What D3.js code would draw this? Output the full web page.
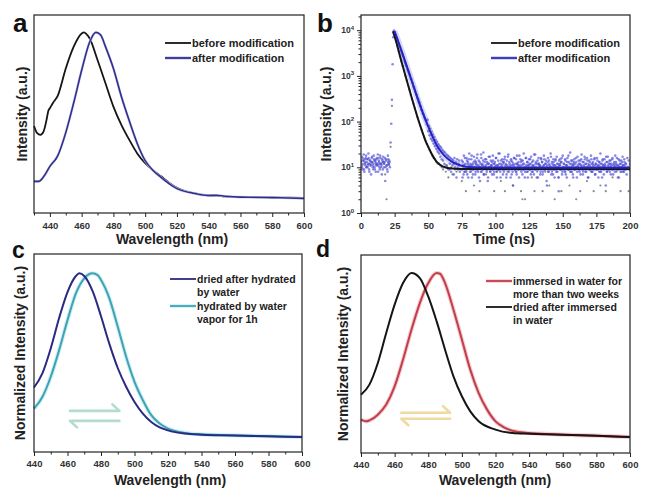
<!DOCTYPE html>
<html><head><meta charset="utf-8">
<script src="https://cdn.jsdelivr.net/npm/d3@7"></script>
<style>body{margin:0;background:#fff}svg{display:block}</style>
</head><body><svg id="chart" width="652" height="497"></svg>
<script>
// ---------------- DATA ----------------
// Panel a : PL spectra (a.u.)
const wlBeforeA = [430,432,434,436,438,439,440,442,445,450,455,460,461.5,463,465,470,475,480,485,490,495,500,505,510,515,520,530,540,545,550,560,570,580,590,600];
const valBeforeA = [0.482,0.442,0.433,0.451,0.52,0.565,0.58,0.61,0.65,0.80,0.921,0.994,1.0,0.99,0.967,0.847,0.718,0.589,0.488,0.405,0.33,0.276,0.236,0.203,0.168,0.14,0.111,0.097,0.096,0.092,0.089,0.087,0.086,0.085,0.083];
const wlAfterA = [430,433,436,440,445,450,455,460,465,469,472,475,480,485,490,495,500,505,510,515,520,530,540,545,550,560,570,580,590,600];
const valAfterA = [0.175,0.175,0.2,0.258,0.318,0.445,0.61,0.79,0.945,1.0,0.985,0.921,0.80,0.645,0.51,0.385,0.29,0.235,0.197,0.163,0.135,0.110,0.097,0.098,0.093,0.088,0.087,0.085,0.083,0.081];
const ticksWlA = [440,460,480,500,520,540,560,580,600];

// Panel b : time-resolved decay (counts)
const timeTicksB = [0,25,50,75,100,125,150,175,200];
const logTicksB = [1,10,100,1000,10000];
// raw counts "after modification", blocks (start time, channel step 0.5 ns)
const afterStart1 = 0,  afterCounts1 = [12,17,9,14,19,8,13,16,10,15,11,20,9,14,12,7,16,13,11,18,10,14,8,15,12,19,11,13,9,16,12,7,14,17,10,13,5,15,11,9,18,12,14,10];
const afterStart1b = 0.25, afterCounts1b = [14,10,16,12,9,15,11,18,13,10,12,16,8,14,11,13,17,10,12,15,9,13,11,16,12,8,14,10,18,12,11,15,9,13,12,16,10,14,11,8,15,12,13];
const afterStart2 = 22, afterCounts2 = [35,90,300,1800,7000,9800,9200,8300,7600,6900,6300,5500,5000,4500,4200,3700,3400,3100,2800,2600,2300,2050,1900,1700,1600,1400,1300,1200,1080,1000,880,830,740,690,590,560,500,450,400,380,330,310,270,260,225,210,180,175,150,145,128,118,108,100,88,110,62,80,50,70,42,60,38,52,33,46,29,40,25,36,22,32,20,29,17,27,15,24,14,22,12,21,11,19,10,18,9,17,12,16,8,15,11,14,7,16,10,13,6,15,9,12,14,8];
const afterStart3 = 75, afterCounts3 = [14,6,11,18,8,12,9,16,7,13,10,20,8,11,15,6,12,9,17,10,7,13,11,19,8,14,10,5,12,16,9,11,21,7,13,10,15,8,12,6,17,10,9,14,11,7,18,12,8,13,10,16,6,11,14,9,20,8,12,10,15,7,13,9,17,11,6,14,10,19,8,12,10,15,7,13,4,11,16,9,12,8,18,10,13,6,11,15,9,14,7,12,20,10,8,16,11,13,6,10,15,9,12,17,8,11,14,7,10,19,13,9,12,6,16,10,11,8,15,13,7,10,18,9,12,14,5,11,16,8,12,10,20,7,13,9,15,11,6,14,10,17,8,12,3,11,15,9,13,7,18,10,12,8,14,11,6,16,9,13,10,21,8,12,14,7,11,15,9,10,13,6,17,10,12,8,14,11,19,9,7,13,10,15,12,8,16,10,6,14,11,9,18,12,8,13,10,15,7,12,9,16,11,6,13,10,20,8,12,14,10,7,15,11,4,13,9,17,10,12,8,14,11,9,16,7,12,10,18,13,9,11,6,15,10,12,8,14,10,17,11,8,13,9,12,7,16,10,14,9,12];
const afterStart3b = 75.25, afterCounts3b = [9,13,7,11,16,10,8,14,12,6,15,10,12,9,18,11,7,13,10,14,8,12,16,9,11,6,13,10,19,8,12,14,7,10,15,11,9,13,5,12,10,17,8,11,13,9,14,7,12,10,16,8,11,9,20,12,10,6,14,11,9,13,8,15,10,12,7,11,17,9,13,10,6,14,11,8,12,16,10,9,15,7,12,11,9,18,10,13,8,11,14,9,12,6,10,16,8,13,11,9,12,15,7,10,13,8,11,19,9,12,10,6,14,9,12,11,7,16,10,13,8,11,15,9,12,10,4,13,8,14,11,9,17,10,12,7,13,9,11,15,8,12,10,6,14,11,9,13,16,8,10,12,9,15,7,11,13,10,18,9,12,8,14,10,11,6,13,9,12,16,10,8,11,14,9,12,7,15,10,13,9,11,17,8,12,10,14,6,11,9,13,10,15,8,12,11,9,16,7,12,10,14,9,11,13,8,12,10,6,15,11,9,12,10,17,8,13,11,9,14,10,7,12,15,9,11,13,8,10,12,16,9,11,6,14,10,12,8,13,11,9,15,10,12];
const afterStep = 0.5;
// raw counts "before modification" (channel step 1 ns)
const beforeStart1 = 0,  beforeCounts1 = [13,11,14,12,10,15,12,11,13,9,14,12,11,16,12,10,13,12,7,2,13,11];
const beforeStart2 = 22, beforeCounts2 = [28,220,9000,7600,5900,4500,3500,2700,2100,1650,1300,1000,800,630,500,390,310,245,195,158,125,100,82,67,55,45,38,32,28,24,21,18,16,15,13,12,12,11,10];
const beforeStart3 = 61, beforeCounts3 = [9,10,8,11,6,9,10,7,12,9,8,10,11,9,5,10,8,3,9,11,10,8,9,4,12,9,10,3,8,11,9,10,7,9,12,8,10,9,3,11,8,10,9,5,10,12,3,9,8,10,11,9,4,10,8,12,9,10,3,2,9,2,10,8,11,9,6,10,3,9,8,12,10,9,3,11,8,10,9,4,10,8,11,2,9,10,6,12,3,9,10,8,11,9,4,10,8,12,9,2,10,9,3,11,8,10,9,5,12,9,8,10,3,11,9,10,8,4,9,11,10,3,8,9,12,10,6,9,11,8,10,9,3,10,8,11,9,10,3,9];
const beforeStep = 1;
// fitted decay curves
const fitTimeBefore = [23.8,26,28,30,32,34,36,38,40,42,44,46,48,50,52,54,56,58,60,63,66,70,80,100,150,200];
const fitBefore = [9500,5800,3500,2100,1300,800,500,310,195,125,82,55,38,28,21,16.5,13.5,11.8,10.7,9.9,9.5,9.3,9.2,9.2,9.2,9.2];
const fitTimeAfter = [24.8,27,29,31,33,35,37,39,41,43,45,47,49,51,53,55,57,59,62,65,68,72,76,80,90,120,160,200];
const fitAfter = [9500,6500,4400,3000,2000,1350,900,600,400,270,185,130,92,66,48,36,28,23,18,15,13,11.5,10.6,10.2,9.9,9.8,9.8,9.8];

// Panel c : normalized spectra
const wlDriedC = [440,445,450,455,460,465,467,470,475,480,485,490,495,500,505,510,515,520,530,540,550,560,580,600];
const valDriedC = [0.361,0.44,0.58,0.75,0.895,0.985,1.0,0.985,0.90,0.76,0.605,0.47,0.365,0.28,0.215,0.168,0.138,0.121,0.103,0.097,0.094,0.092,0.088,0.084];
const wlHydratedC = [440,445,450,455,460,465,470,475,478,480,485,490,495,500,505,510,515,520,530,540,550,560,580,600];
const valHydratedC = [0.243,0.308,0.421,0.570,0.738,0.888,0.972,1.0,0.99,0.963,0.860,0.701,0.533,0.393,0.290,0.206,0.159,0.131,0.107,0.099,0.095,0.093,0.088,0.084];

// Panel d : normalized spectra
const wlImmersedD = [440,443,445,450,455,460,465,470,475,480,485,487,490,495,500,505,510,515,520,525,530,540,550,560,580,600];
const valImmersedD = [0.185,0.176,0.181,0.213,0.269,0.370,0.519,0.685,0.833,0.944,1.0,0.996,0.944,0.796,0.630,0.463,0.333,0.241,0.176,0.143,0.124,0.111,0.106,0.102,0.096,0.089];
const wlDriedD = [440,445,450,455,460,465,470,475,480,485,490,495,500,505,510,520,530,540,550,560,580,600];
const valDriedD = [0.324,0.380,0.500,0.667,0.824,0.944,1.0,0.972,0.870,0.731,0.574,0.426,0.315,0.231,0.176,0.130,0.111,0.107,0.104,0.102,0.096,0.089];
const ticksWl = [440,460,480,500,520,540,560,580,600];

// ---------------- DRAWING ----------------
const FONT = "'Liberation Sans', Arial, Helvetica, sans-serif";
const svg = d3.select("#chart");
svg.append("rect").attr("width",652).attr("height",497).attr("fill","#fff");

function frame(box){
  svg.append("rect").attr("x",box.x0).attr("y",box.y0).attr("width",box.x1-box.x0).attr("height",box.y1-box.y0)
    .attr("fill","none").attr("stroke","#222").attr("stroke-width",1.2);
}
function xAxis(x, box, major, minor, pad){
  const ax = svg.append("g").attr("transform",`translate(0,${box.y1})`)
    .call(d3.axisBottom(x).tickValues(major).tickSize(4).tickPadding(pad).tickFormat(d3.format("d")));
  ax.select(".domain").remove();
  ax.selectAll("line").attr("stroke","#222").attr("stroke-width",1);
  ax.selectAll("text").attr("font-family",FONT).attr("font-size",9.5).attr("font-weight","bold").attr("fill","#333");
  const mn = svg.append("g").attr("transform",`translate(0,${box.y1})`)
    .call(d3.axisBottom(x).tickValues(minor.filter(v=>!major.includes(v))).tickSize(2.5).tickFormat(""));
  mn.select(".domain").remove();
  mn.selectAll("line").attr("stroke","#222");
}
function title(text, x, y, rot, size){
  svg.append("text").attr("transform",`translate(${x},${y}) rotate(${rot||0})`)
    .attr("text-anchor","middle").attr("font-family",FONT).attr("font-weight","bold")
    .attr("font-size",size||14).attr("fill","#222").text(text);
}
function panelLabel(t,x,y,size){
  svg.append("text").attr("x",x).attr("y",y).attr("font-family",FONT).attr("font-weight","bold")
    .attr("font-size",size).attr("fill","#111").text(t);
}
function curve(x,y,xs,ys,color,w,halo,haloW){
  const pts = xs.map((v,i)=>[v,ys[i]]);
  const line = d3.line().x(d=>x(d[0])).y(d=>y(d[1])).curve(d3.curveMonotoneX);
  if(halo) svg.append("path").attr("d",line(pts)).attr("fill","none").attr("stroke",halo).attr("stroke-width",haloW).attr("stroke-linejoin","round");
  svg.append("path").attr("d",line(pts)).attr("fill","none").attr("stroke",color).attr("stroke-width",w).attr("stroke-linejoin","round");
}
function legend(x0, rows, size){
  rows.forEach(r=>{
    if(r.color){
      if(r.halo) svg.append("line").attr("x1",x0).attr("x2",x0+26).attr("y1",r.y).attr("y2",r.y).attr("stroke",r.halo).attr("stroke-width",3.5);
      svg.append("line").attr("x1",x0).attr("x2",x0+26).attr("y1",r.y).attr("y2",r.y).attr("stroke",r.color).attr("stroke-width",1.8);
    }
    svg.append("text").attr("x",x0+27).attr("y",r.y+3.8).attr("font-family",FONT).attr("font-weight","bold")
      .attr("font-size",size).attr("fill","#222").text(r.text);
  });
}
function eqArrows(x, y, w0, w1, vTop, vBot, color){
  const xa=x(w0), xb=x(w1), yt=y(vTop), yb=y(vBot);
  svg.append("path").attr("d",`M${xa},${yt}L${xb},${yt}L${xb-7},${yt-6.5}`).attr("fill","none").attr("stroke",color).attr("stroke-width",2.6).attr("stroke-linejoin","round").attr("stroke-linecap","round");
  svg.append("path").attr("d",`M${xb},${yb}L${xa},${yb}L${xa+7},${yb+6.5}`).attr("fill","none").attr("stroke",color).attr("stroke-width",2.6).attr("stroke-linejoin","round").attr("stroke-linecap","round");
}

// ---- Panel a ----
{
  const box={x0:34,x1:304,y0:15,y1:213};
  const x=d3.scaleLinear().domain([430,600]).range([box.x0,box.x1]);
  const y=d3.scaleLinear().domain([0,1.096]).range([box.y1,box.y0]);
  curve(x,y,wlBeforeA,valBeforeA,"#151515",1.8);
  curve(x,y,wlAfterA,valAfterA,"#2f2f8c",1.6,"#cfcff0",2.6);
  frame(box);
  xAxis(x,box,ticksWlA,d3.range(430,601,10),5);
  title("Wavelength (nm)",172,244);
  title("Intensity (a.u.)",27,114,-90);
  panelLabel("a",13,32,26);
  legend(165,[{color:"#151515",y:43,text:"before modification"},{color:"#2f2f8c",halo:"#cfcff0",y:58,text:"after modification"}],11);
}

// ---- Panel b ----
{
  const box={x0:361,x1:630,y0:15,y1:213};
  const x=d3.scaleLinear().domain([0,200]).range([box.x0,box.x1]);
  const y=d3.scaleLog().domain([1,21500]).range([box.y1,box.y0]);
  svg.append("clipPath").attr("id","clipB").append("rect").attr("x",box.x0).attr("y",box.y0).attr("width",box.x1-box.x0).attr("height",box.y1-box.y0);
  const g=svg.append("g").attr("clip-path","url(#clipB)");
  const pts=(start,step,arr)=>arr.map((v,i)=>[start+i*step,v]);
  const before=[...pts(beforeStart1,beforeStep,beforeCounts1),...pts(beforeStart2,beforeStep,beforeCounts2),...pts(beforeStart3,beforeStep,beforeCounts3)];
  const after=[...pts(afterStart1,afterStep,afterCounts1),...pts(afterStart1b,afterStep,afterCounts1b),...pts(afterStart2,afterStep,afterCounts2),
               ...pts(afterStart3,afterStep,afterCounts3),...pts(afterStart3b,afterStep,afterCounts3b)];
  g.selectAll("circle.bf").data(before).join("circle").attr("class","bf")
    .attr("cx",d=>x(d[0])).attr("cy",d=>y(d[1])).attr("r",1.1).attr("fill","#6a6a7a").attr("opacity",0.8);
  const line=d3.line().x(d=>x(d[0])).y(d=>y(d[1])).curve(d3.curveMonotoneX);
  const fa=fitTimeAfter.map((t,i)=>[t,fitAfter[i]]);
  const fb=fitTimeBefore.map((t,i)=>[t,fitBefore[i]]);
  g.append("path").attr("d",line(fa)).attr("fill","none").attr("stroke","#8a8ae8").attr("stroke-width",6).attr("opacity",0.35);
  g.selectAll("circle.af").data(after).join("circle").attr("class","af")
    .attr("cx",d=>x(d[0])).attr("cy",d=>y(d[1])).attr("r",1.3).attr("fill","#4a4ad8").attr("opacity",0.65);
  g.append("path").attr("d",line(fb)).attr("fill","none").attr("stroke","#151515").attr("stroke-width",2);
  g.append("path").attr("d",line(fa)).attr("fill","none").attr("stroke","#2323c0").attr("stroke-width",2);
  frame(box);
  xAxis(x,box,timeTicksB,d3.range(12.5,200,25),5);
  const minorLog=[];
  [1,10,100,1000,10000].forEach(p=>{for(let k=2;k<=9;k++){if(p*k<21500)minorLog.push(p*k);}});
  const ay=svg.append("g").attr("transform",`translate(${box.x0},0)`).call(d3.axisLeft(y).tickValues(logTicksB).tickSize(4).tickFormat(""));
  ay.select(".domain").remove(); ay.selectAll("line").attr("stroke","#222");
  const ay2=svg.append("g").attr("transform",`translate(${box.x0},0)`).call(d3.axisLeft(y).tickValues(minorLog).tickSize(2.5).tickFormat(""));
  ay2.select(".domain").remove(); ay2.selectAll("line").attr("stroke","#222");
  logTicksB.forEach(v=>{
    const t=svg.append("text").attr("x",box.x0-7).attr("y",y(v)+3).attr("text-anchor","end")
      .attr("font-family",FONT).attr("font-weight","bold").attr("font-size",8.5).attr("fill","#333").text("10");
    t.append("tspan").attr("dy",-3.5).attr("font-size",6).text(Math.round(Math.log10(v)));
  });
  title("Time (ns)",504,244);
  title("Intensity (a.u.)",331,114,-90);
  panelLabel("b",317,32,26);
  legend(491,[{color:"#151515",y:43,text:"before modification"},{color:"#2f2fb8",halo:"#c6c6f0",y:58,text:"after modification"}],11);
}

// ---- Panel c ----
{
  const box={x0:34,x1:302,y0:254,y1:452};
  const x=d3.scaleLinear().domain([440,600]).range([box.x0,box.x1]);
  const y=d3.scaleLinear().domain([0,1.108]).range([box.y1,box.y0]);
  eqArrows(x,y,461.5,491,0.23,0.174,"#b3dccb");
  curve(x,y,wlHydratedC,valHydratedC,"#42a2b3",2,"#cdf1f6",4.2);
  curve(x,y,wlDriedC,valDriedC,"#2b2a82",2);
  frame(box);
  xAxis(x,box,ticksWl,d3.range(440,601,10),4);
  title("Wavelength (nm)",170,485);
  title("Normalized Intensity (a.u.)",25,353,-90);
  panelLabel("c",12,258,23);
  legend(170,[{color:"#2b2a82",y:279,text:"dried after hydrated"},{y:292.5,text:"by water"},
              {color:"#42a2b3",halo:"#cdf1f6",y:306,text:"hydrated by water"},{y:319.5,text:"vapor for 1h"}],10.5);
}

// ---- Panel d ----
{
  const box={x0:361,x1:630,y0:255,y1:453};
  const x=d3.scaleLinear().domain([440,600]).range([box.x0,box.x1]);
  const y=d3.scaleLinear().domain([0,1.10]).range([box.y1,box.y0]);
  eqArrows(x,y,464,493,0.224,0.19,"#f1d9a2");
  curve(x,y,wlImmersedD,valImmersedD,"#bf3f4b",2,"#f7cdd1",4.2);
  curve(x,y,wlDriedD,valDriedD,"#151515",2);
  frame(box);
  xAxis(x,box,ticksWl,d3.range(440,601,10),4);
  title("Wavelength (nm)",495,485);
  title("Normalized Intensity (a.u.)",348,354,-90);
  panelLabel("d",316,257,23);
  legend(486,[{color:"#bf3f4b",halo:"#f7cdd1",y:281,text:"immersed in water for"},{y:294,text:"more than two weeks"},
              {color:"#151515",y:307,text:"dried after immersed"},{y:320,text:"in water"}],10.5);
}
</script></body></html>
